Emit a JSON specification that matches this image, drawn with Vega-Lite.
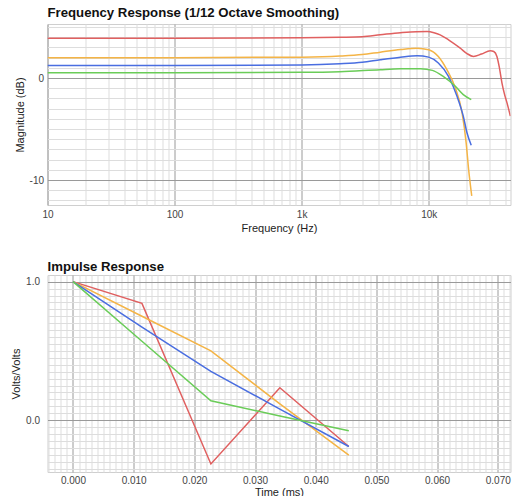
{
  "$schema": "https://vega.github.io/schema/vega-lite/v6.json",
  "padding": {"left": 9.5, "top": 5, "right": 5, "bottom": 0},
  "bounds": "flush",
  "spacing": 70,
  "config": {
    "font": "Liberation Sans",
    "view": {"stroke": "#cfcfcf"},
    "axis": {"domain": false, "ticks": false, "labelColor": "#444444", "labelFontSize": 10, "titleFontSize": 11, "titleFontWeight": "normal", "titleColor": "#222222", "labelOverlap": false, "labelFlush": false, "gridWidth": 1},
    "title": {"anchor": "start", "fontSize": 13.2, "fontWeight": "bold", "color": "#111111", "baseline": "alphabetic", "frame": "group"}
  },
  "vconcat": [
    {
      "width": 463,
      "height": 181,
      "title": {"text": "Frequency Response (1/12 Octave Smoothing)", "offset": 2},
      "data": {"values": [
        {"series": "A", "freq": 10, "db": 3.9},
        {"series": "A", "freq": 100, "db": 3.9},
        {"series": "A", "freq": 1000, "db": 3.95},
        {"series": "A", "freq": 2000, "db": 4.0},
        {"series": "A", "freq": 3000, "db": 4.05},
        {"series": "A", "freq": 4150, "db": 4.24},
        {"series": "A", "freq": 6000, "db": 4.45},
        {"series": "A", "freq": 8000, "db": 4.55},
        {"series": "A", "freq": 9700, "db": 4.56},
        {"series": "A", "freq": 11000, "db": 4.45},
        {"series": "A", "freq": 12300, "db": 4.24},
        {"series": "A", "freq": 14500, "db": 3.7},
        {"series": "A", "freq": 17700, "db": 2.93},
        {"series": "A", "freq": 20000, "db": 2.4},
        {"series": "A", "freq": 22500, "db": 2.12},
        {"series": "A", "freq": 26000, "db": 2.35},
        {"series": "A", "freq": 30500, "db": 2.68},
        {"series": "A", "freq": 32500, "db": 2.6},
        {"series": "A", "freq": 34400, "db": 2.12},
        {"series": "A", "freq": 36000, "db": 1.0},
        {"series": "A", "freq": 37700, "db": -0.49},
        {"series": "A", "freq": 39500, "db": -1.6},
        {"series": "A", "freq": 41300, "db": -2.44},
        {"series": "A", "freq": 43900, "db": -3.74},
        {"series": "B", "freq": 10, "db": 2.0},
        {"series": "B", "freq": 100, "db": 2.0},
        {"series": "B", "freq": 1000, "db": 2.05},
        {"series": "B", "freq": 2000, "db": 2.15},
        {"series": "B", "freq": 3000, "db": 2.3},
        {"series": "B", "freq": 4150, "db": 2.54},
        {"series": "B", "freq": 6000, "db": 2.8},
        {"series": "B", "freq": 8100, "db": 2.93},
        {"series": "B", "freq": 9980, "db": 2.78},
        {"series": "B", "freq": 11900, "db": 2.12},
        {"series": "B", "freq": 13900, "db": 0.82},
        {"series": "B", "freq": 16200, "db": -0.98},
        {"series": "B", "freq": 18300, "db": -3.42},
        {"series": "B", "freq": 19700, "db": -6.35},
        {"series": "B", "freq": 20600, "db": -8.95},
        {"series": "B", "freq": 21800, "db": -11.56},
        {"series": "C", "freq": 10, "db": 1.24},
        {"series": "C", "freq": 100, "db": 1.24},
        {"series": "C", "freq": 1000, "db": 1.28},
        {"series": "C", "freq": 2000, "db": 1.4},
        {"series": "C", "freq": 3000, "db": 1.55},
        {"series": "C", "freq": 4150, "db": 1.8},
        {"series": "C", "freq": 6000, "db": 2.05},
        {"series": "C", "freq": 8100, "db": 2.19},
        {"series": "C", "freq": 9980, "db": 2.05},
        {"series": "C", "freq": 11900, "db": 1.47},
        {"series": "C", "freq": 14300, "db": 0.16},
        {"series": "C", "freq": 16700, "db": -1.79},
        {"series": "C", "freq": 18700, "db": -3.74},
        {"series": "C", "freq": 20000, "db": -5.37},
        {"series": "C", "freq": 21600, "db": -6.6},
        {"series": "D", "freq": 10, "db": 0.53},
        {"series": "D", "freq": 100, "db": 0.53},
        {"series": "D", "freq": 1000, "db": 0.56},
        {"series": "D", "freq": 2000, "db": 0.62},
        {"series": "D", "freq": 4150, "db": 0.82},
        {"series": "D", "freq": 6000, "db": 0.9},
        {"series": "D", "freq": 8600, "db": 0.92},
        {"series": "D", "freq": 10700, "db": 0.75},
        {"series": "D", "freq": 13000, "db": 0.16},
        {"series": "D", "freq": 16200, "db": -0.81},
        {"series": "D", "freq": 18700, "db": -1.62},
        {"series": "D", "freq": 21600, "db": -2.11}
      ]},
      "mark": {"type": "line", "interpolate": "monotone", "strokeWidth": 1.5, "clip": true},
      "encoding": {
        "x": {
          "field": "freq", "type": "quantitative",
          "scale": {"type": "log", "domain": [10, 44000], "nice": false},
          "axis": {
            "title": "Frequency (Hz)",
            "values": [10, 20, 30, 40, 50, 60, 70, 80, 90, 100, 200, 300, 400, 500, 600, 700, 800, 900, 1000, 2000, 3000, 4000, 5000, 6000, 7000, 8000, 9000, 10000, 20000, 30000, 40000],
            "labelExpr": "datum.value == 10 ? '10' : datum.value == 100 ? '100' : datum.value == 1000 ? '1k' : datum.value == 10000 ? '10k' : ''",
            "gridColor": {"condition": {"test": "datum.value == 10 || datum.value == 100 || datum.value == 1000 || datum.value == 10000", "value": "#9a9a9a"}, "value": "#dddddd"},
            "labelPadding": 4,
            "titlePadding": 3
          }
        },
        "y": {
          "field": "db", "type": "quantitative",
          "scale": {"domain": [-12.45, 5.3], "nice": false, "zero": false},
          "axis": {
            "title": "Magnitude (dB)",
            "values": [-12, -11, -10, -9, -8, -7, -6, -5, -4, -3, -2, -1, 0, 1, 2, 3, 4, 5],
            "labelExpr": "datum.value == 0 ? '0' : datum.value == -10 ? '-10' : ''",
            "gridColor": {"condition": {"test": "datum.value == 0 || datum.value == -10", "value": "#9a9a9a"}, "value": "#dddddd"},
            "labelPadding": 4,
            "titlePadding": 4
          }
        },
        "color": {
          "field": "series", "type": "nominal",
          "scale": {"domain": ["A", "B", "C", "D"], "range": ["#e06060", "#f4b446", "#4a6ee0", "#6acc58"]},
          "legend": null
        }
      }
    },
    {
      "width": 463,
      "height": 197,
      "title": {"text": "Impulse Response", "offset": 1},
      "data": {"values": [
        {"series": "A", "t": 0, "v": 1.0},
        {"series": "A", "t": 0.011364, "v": 0.843},
        {"series": "A", "t": 0.022727, "v": -0.316},
        {"series": "A", "t": 0.034091, "v": 0.234},
        {"series": "A", "t": 0.045455, "v": -0.19},
        {"series": "B", "t": 0, "v": 1.0},
        {"series": "B", "t": 0.011364, "v": 0.75},
        {"series": "B", "t": 0.022727, "v": 0.5},
        {"series": "B", "t": 0.034091, "v": 0.118},
        {"series": "B", "t": 0.045455, "v": -0.252},
        {"series": "C", "t": 0, "v": 1.0},
        {"series": "C", "t": 0.011364, "v": 0.672},
        {"series": "C", "t": 0.022727, "v": 0.353},
        {"series": "C", "t": 0.034091, "v": 0.08},
        {"series": "C", "t": 0.045455, "v": -0.19},
        {"series": "D", "t": 0, "v": 1.0},
        {"series": "D", "t": 0.011364, "v": 0.57},
        {"series": "D", "t": 0.022727, "v": 0.14},
        {"series": "D", "t": 0.034091, "v": 0.03},
        {"series": "D", "t": 0.045455, "v": -0.076}
      ]},
      "mark": {"type": "line", "strokeWidth": 1.5, "clip": true},
      "encoding": {
        "x": {
          "field": "t", "type": "quantitative",
          "scale": {"domain": [-0.0042, 0.0721], "nice": false, "zero": false},
          "axis": {
            "title": "Time (ms)",
            "values": [-0.004, -0.003, -0.002, -0.001, 0, 0.001, 0.002, 0.003, 0.004, 0.005, 0.006, 0.007, 0.008, 0.009, 0.01, 0.011, 0.012, 0.013, 0.014, 0.015, 0.016, 0.017, 0.018, 0.019, 0.02, 0.021, 0.022, 0.023, 0.024, 0.025, 0.026, 0.027, 0.028, 0.029, 0.03, 0.031, 0.032, 0.033, 0.034, 0.035, 0.036, 0.037, 0.038, 0.039, 0.04, 0.041, 0.042, 0.043, 0.044, 0.045, 0.046, 0.047, 0.048, 0.049, 0.05, 0.051, 0.052, 0.053, 0.054, 0.055, 0.056, 0.057, 0.058, 0.059, 0.06, 0.061, 0.062, 0.063, 0.064, 0.065, 0.066, 0.067, 0.068, 0.069, 0.07, 0.071, 0.072],
            "labelExpr": "(abs(round(datum.value * 100) - datum.value * 100) < 0.001 && datum.value > -0.0005) ? format(datum.value, '.3f') : ''",
            "gridColor": {"condition": {"test": "abs(round(datum.value * 100) - datum.value * 100) < 0.001", "value": "#9a9a9a"}, "value": "#dddddd"},
            "labelPadding": 3,
            "titlePadding": 1
          }
        },
        "y": {
          "field": "v", "type": "quantitative",
          "scale": {"domain": [-0.374, 1.048], "nice": false, "zero": false},
          "axis": {
            "title": "Volts/Volts",
            "values": [-0.35, -0.3, -0.25, -0.2, -0.15, -0.1, -0.05, 0, 0.05, 0.1, 0.15, 0.2, 0.25, 0.3, 0.35, 0.4, 0.45, 0.5, 0.55, 0.6, 0.65, 0.7, 0.75, 0.8, 0.85, 0.9, 0.95, 1.0],
            "labelExpr": "(abs(datum.value) < 0.001 || abs(datum.value - 1) < 0.001) ? format(datum.value, '.1f') : ''",
            "gridColor": {"condition": {"test": "abs(datum.value) < 0.001 || abs(datum.value - 1) < 0.001", "value": "#9a9a9a"}, "value": "#dddddd"},
            "labelPadding": 8,
            "titlePadding": 4
          }
        },
        "color": {
          "field": "series", "type": "nominal",
          "scale": {"domain": ["A", "B", "C", "D"], "range": ["#e06060", "#f4b446", "#4a6ee0", "#6acc58"]},
          "legend": null
        }
      }
    }
  ]
}
